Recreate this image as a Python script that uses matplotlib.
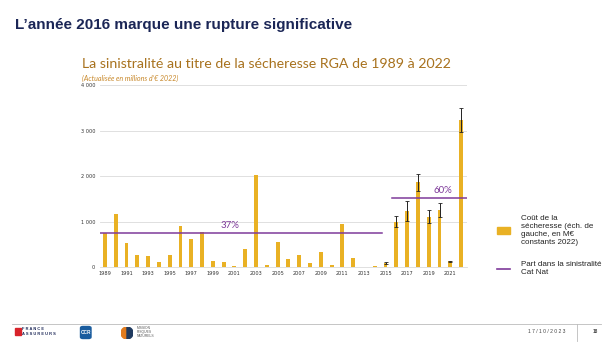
import matplotlib
matplotlib.use("Agg")
import matplotlib.pyplot as plt
from matplotlib.patches import Rectangle, FancyBboxPatch, Wedge
from matplotlib.lines import Line2D

years = list(range(1989, 2023))
costs = [760, 1170, 527, 278, 256, 117, 270, 914, 629, 768, 139, 110, 22, 402, 2034,
         51, 556, 183, 270, 88, 329, 51, 951, 205, 15, 22, 95, 1002, 1236, 1866,
         1112, 1258, 132, 3234]
err_years = [2015, 2016, 2017, 2018, 2019, 2020, 2021, 2022]
err_sizes = [30, 117, 220, 190, 146, 155, 15, 256]

share_labels = ["37%", "60%"]
share_levels = [755, 1515]
share_start = [1988.5, 2015.6]
share_end = [2014.7, 2022.5]
share_label_pos = [(2000.6, 913), (2020.3, 1695)]

yticks = [0, 1000, 2000, 3000, 4000]
ytick_labels = ["0", "1 000", "2 000", "3 000", "4 000"]

BAR = "#E9B124"
PURPLE = "#7E3A9A"
NAVY = "#1B2656"
GOLD = "#A8721E"

fig = plt.figure(figsize=(6.10, 3.43), dpi=100)
W, H = 610, 343

def fx(px):
    return px / W

def fy(py):
    return 1 - py / H

# Titles
fig.text(fx(15), fy(25.5), "L\u2019année 2016 marque une rupture significative",
         fontsize=11, fontweight="bold", color=NAVY, family="Liberation Sans",
         va="center", ha="left")
fig.text(fx(81.5), fy(64.5), "La sinistralité au titre de la sécheresse RGA de 1989 à 2022",
         fontsize=10.2, color=GOLD, family="Lato", va="center", ha="left")
fig.text(fx(82), fy(78.5), "(Actualisée en millions d\u2019€ 2022)",
         fontsize=5.1, color="#C8882A", family="Lato", style="italic", va="center", ha="left")

ax = fig.add_axes([fx(99.5), fy(267.3), fx(466.5) - fx(99.5), fy(85) - fy(267.3)])
ax.bar(years, costs, width=0.36, color=BAR, zorder=3)
err_vals = [costs[years.index(y)] for y in err_years]
ax.errorbar(err_years, err_vals, yerr=err_sizes, fmt="none", ecolor="#222222",
            elinewidth=0.7, capsize=1.3, capthick=0.6, zorder=4)
for lvl, x0, x1 in zip(share_levels, share_start, share_end):
    ax.plot([x0, x1], [lvl, lvl], color=PURPLE, lw=1.1, zorder=5)
for lab, (xx, yy) in zip(share_labels, share_label_pos):
    ax.text(xx, yy, lab, color=PURPLE, fontsize=7, family="Lato", ha="center", va="center")

ax.set_xlim(1988.5, 2022.5)
ax.set_ylim(0, 4000)
ax.set_yticks(yticks)
ax.set_yticklabels(ytick_labels)
ax.set_xticks(years[::2])
ax.set_xticklabels([str(y) for y in years[::2]])
ax.tick_params(axis="both", length=0, labelsize=3.6, colors="#333333", pad=3)
ax.grid(axis="y", color="#DADADA", lw=0.6, zorder=0)
for s in ["top", "right", "left"]:
    ax.spines[s].set_visible(False)
ax.spines["bottom"].set_color("#DADADA")
ax.spines["bottom"].set_linewidth(0.6)

# Legend
fig.patches.append(Rectangle((fx(497), fy(233.5)), fx(13), 7 / H, transform=fig.transFigure,
                             color=BAR))
fig.text(fx(521), fy(231), "Coût de la\nsécheresse (éch. de\ngauche, en M€\nconstants 2022)",
         fontsize=5.8, color="#222222", family="Liberation Sans", va="center", ha="left",
         linespacing=1.2)
fig.lines.append(Line2D([fx(497), fx(510)], [fy(269.3), fy(269.3)], transform=fig.transFigure,
                        color=PURPLE, lw=1.2))
fig.text(fx(521), fy(268.5), "Part dans la sinistralité\nCat Nat",
         fontsize=5.8, color="#222222", family="Liberation Sans", va="center", ha="left",
         linespacing=1.2)

# Footer
fig.lines.append(Line2D([fx(12), fx(601)], [fy(323.5), fy(323.5)], transform=fig.transFigure,
                        color="#BBBBBB", lw=0.6))
fig.lines.append(Line2D([fx(577), fx(577)], [fy(323.5), fy(341)], transform=fig.transFigure,
                        color="#BBBBBB", lw=0.6))
fig.text(fx(547), fy(331.5), "1 7 / 1 0 / 2 0 2 3", fontsize=3.6, color="#444444",
         family="Liberation Sans", ha="center", va="center")
fig.text(fx(595), fy(331.5), "18", fontsize=3.3, color="#444444", fontweight="bold",
         family="Liberation Sans", ha="center", va="center")
# France Assureurs logo (approximate)
fig.patches.append(Rectangle((fx(15), fy(335)), fx(6), 7 / H, transform=fig.transFigure,
                             color="#D8232A"))
fig.text(fx(22), fy(329), "F R A N C E", fontsize=2.9, color="#1B2656", fontweight="bold",
         family="Liberation Sans", ha="left", va="center")
fig.text(fx(22), fy(334), "A S S U R E U R S", fontsize=2.9, color="#1B2656", fontweight="bold",
         family="Liberation Sans", ha="left", va="center")
# CCR logo
fig.patches.append(FancyBboxPatch((fx(80.5), fy(338.5)), fx(10.5), 12 / H,
                                  boxstyle="round,pad=0,rounding_size=0.004",
                                  transform=fig.transFigure, color="#1A5C9E"))
fig.text(fx(85.7), fy(332.5), "CCR", fontsize=3.4, color="white", fontweight="bold",
         family="Liberation Sans", ha="center", va="center")
# Mission Risques Naturels logo
fig.text(fx(137), fy(332), "MISSION\nRISQUES\nNATURELS", fontsize=2.4, color="#555555",
         family="Liberation Sans", ha="left", va="center", linespacing=1.1)
axl = fig.add_axes([fx(121), fy(339), fx(12), 12 / H])
axl.set_xlim(-1, 1); axl.set_ylim(-1, 1); axl.set_aspect("equal"); axl.axis("off")
axl.add_patch(Wedge((0, 0), 1, 90, 270, color="#E07B1E"))
axl.add_patch(Wedge((0, 0), 1, -90, 90, color="#1F3A5F"))

fig.savefig("out.png", dpi=100)
